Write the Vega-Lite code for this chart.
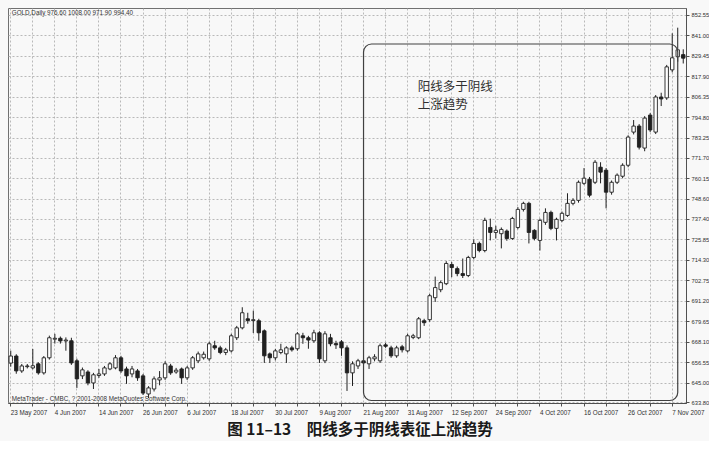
{
  "$schema": "https://vega.github.io/schema/vega-lite/v6.json",
  "width": 678,
  "height": 395,
  "padding": {"left": 8, "top": 8, "right": 0, "bottom": 2},
  "background": "#f8f8f8",
  "config": {
    "view": {"stroke": "#707070", "strokeWidth": 1},
    "font": "Liberation Sans",
    "axis": {"labelFont": "Liberation Sans", "labelColor": "#303030", "tickColor": "#505050", "domainColor": "#505050", "gridColor": "#a8a8a8", "gridDash": [2, 2], "gridWidth": 0.8}
  },
  "title": {"text": "图 11–13　阳线多于阴线表征上涨趋势", "orient": "bottom", "anchor": "middle", "font": "Noto Sans CJK SC", "fontSize": 15.5, "fontWeight": "bold", "color": "#1a1a1a", "offset": 8, "dx": 13},
  "datasets": {
    "gold": [
      {"date": "23 May 2007", "o": 656, "h": 663, "l": 654, "c": 660},
      {"date": "24 May 2007", "o": 660, "h": 661, "l": 650, "c": 651.6},
      {"date": "25 May 2007", "o": 651.6, "h": 655.5, "l": 650.5, "c": 654.4},
      {"date": "28 May 2007", "o": 654, "h": 655.5, "l": 653, "c": 654.4},
      {"date": "29 May 2007", "o": 653.3, "h": 664, "l": 652.5, "c": 654.5},
      {"date": "30 May 2007", "o": 655.6, "h": 656.5, "l": 649.5, "c": 650.5},
      {"date": "31 May 2007", "o": 650.5, "h": 660, "l": 649.5, "c": 659},
      {"date": "1 Jun 2007", "o": 659, "h": 671.5, "l": 658, "c": 670.3},
      {"date": "4 Jun 2007", "o": 669.5, "h": 672.5, "l": 667, "c": 670},
      {"date": "5 Jun 2007", "o": 670, "h": 671, "l": 667, "c": 668.5},
      {"date": "6 Jun 2007", "o": 668.5, "h": 670.5, "l": 663, "c": 669},
      {"date": "7 Jun 2007", "o": 668.6, "h": 670.3, "l": 655, "c": 656.1},
      {"date": "8 Jun 2007", "o": 657.3, "h": 658.5, "l": 642, "c": 647.1},
      {"date": "11 Jun 2007", "o": 648.8, "h": 653.5, "l": 647, "c": 652.2},
      {"date": "12 Jun 2007", "o": 651, "h": 652, "l": 643.5, "c": 644.8},
      {"date": "13 Jun 2007", "o": 644.8, "h": 650.5, "l": 641.4, "c": 649.4},
      {"date": "14 Jun 2007", "o": 649, "h": 652.7, "l": 647.7, "c": 649.9},
      {"date": "15 Jun 2007", "o": 649.9, "h": 654.4, "l": 648.8, "c": 653.3},
      {"date": "18 Jun 2007", "o": 652.7, "h": 656.5, "l": 652, "c": 655.6},
      {"date": "19 Jun 2007", "o": 653.3, "h": 660.5, "l": 652.5, "c": 659},
      {"date": "20 Jun 2007", "o": 659, "h": 660.1, "l": 650.5, "c": 651.6},
      {"date": "21 Jun 2007", "o": 652.7, "h": 654, "l": 644.3, "c": 648.8},
      {"date": "22 Jun 2007", "o": 649.9, "h": 654.4, "l": 648, "c": 652.7},
      {"date": "25 Jun 2007", "o": 651.6, "h": 652.7, "l": 646, "c": 647.7},
      {"date": "26 Jun 2007", "o": 648.8, "h": 649.9, "l": 638, "c": 639.1},
      {"date": "27 Jun 2007", "o": 638.6, "h": 643, "l": 636.3, "c": 642},
      {"date": "28 Jun 2007", "o": 641.4, "h": 648.5, "l": 640, "c": 647.1},
      {"date": "29 Jun 2007", "o": 646.5, "h": 651.5, "l": 643.5, "c": 647.7},
      {"date": "2 Jul 2007", "o": 647.7, "h": 657, "l": 646.5, "c": 655.6},
      {"date": "3 Jul 2007", "o": 654.4, "h": 655.6, "l": 649.4, "c": 650.5},
      {"date": "4 Jul 2007", "o": 651, "h": 653.3, "l": 650, "c": 652},
      {"date": "5 Jul 2007", "o": 652.7, "h": 653.5, "l": 644.3, "c": 647.7},
      {"date": "6 Jul 2007", "o": 647.7, "h": 654.4, "l": 646.5, "c": 653.3},
      {"date": "9 Jul 2007", "o": 653.3, "h": 660, "l": 652.2, "c": 659},
      {"date": "10 Jul 2007", "o": 657.3, "h": 662.5, "l": 656, "c": 661.2},
      {"date": "11 Jul 2007", "o": 659, "h": 662.5, "l": 658, "c": 661},
      {"date": "12 Jul 2007", "o": 658.4, "h": 668, "l": 657.3, "c": 666.9},
      {"date": "13 Jul 2007", "o": 665.8, "h": 668.6, "l": 663.5, "c": 664.6},
      {"date": "16 Jul 2007", "o": 664.6, "h": 665.8, "l": 661, "c": 662},
      {"date": "17 Jul 2007", "o": 662, "h": 664.6, "l": 660.5, "c": 663.5},
      {"date": "18 Jul 2007", "o": 662.9, "h": 672.5, "l": 662, "c": 671.4},
      {"date": "19 Jul 2007", "o": 670.3, "h": 677, "l": 669, "c": 675.9},
      {"date": "20 Jul 2007", "o": 675.9, "h": 687.5, "l": 675, "c": 684.4},
      {"date": "23 Jul 2007", "o": 681, "h": 684.4, "l": 678.2, "c": 680},
      {"date": "24 Jul 2007", "o": 680, "h": 685.6, "l": 673, "c": 680.5},
      {"date": "25 Jul 2007", "o": 679.9, "h": 681, "l": 668.6, "c": 673.1},
      {"date": "26 Jul 2007", "o": 674.2, "h": 675, "l": 656.1, "c": 660.1},
      {"date": "27 Jul 2007", "o": 661.2, "h": 662, "l": 656.1, "c": 659},
      {"date": "30 Jul 2007", "o": 659, "h": 664, "l": 657.5, "c": 662.9},
      {"date": "31 Jul 2007", "o": 662, "h": 666.9, "l": 661, "c": 663.5},
      {"date": "1 Aug 2007", "o": 661.2, "h": 665.5, "l": 656.1, "c": 664.6},
      {"date": "2 Aug 2007", "o": 664.6, "h": 665.8, "l": 662.5, "c": 663.5},
      {"date": "3 Aug 2007", "o": 664.1, "h": 673.5, "l": 663, "c": 672.5},
      {"date": "6 Aug 2007", "o": 671.4, "h": 673.1, "l": 666.9, "c": 670.3},
      {"date": "7 Aug 2007", "o": 670.3, "h": 671.4, "l": 664.1, "c": 669},
      {"date": "8 Aug 2007", "o": 668.6, "h": 674.8, "l": 667.5, "c": 673.1},
      {"date": "9 Aug 2007", "o": 673.1, "h": 674, "l": 656.1, "c": 658.4},
      {"date": "10 Aug 2007", "o": 657.3, "h": 674, "l": 656, "c": 672.5},
      {"date": "13 Aug 2007", "o": 670.3, "h": 672.5, "l": 665.5, "c": 666.9},
      {"date": "14 Aug 2007", "o": 667, "h": 668.6, "l": 664, "c": 666.3},
      {"date": "15 Aug 2007", "o": 668, "h": 669, "l": 660.1, "c": 664.6},
      {"date": "16 Aug 2007", "o": 664.6, "h": 666, "l": 640.3, "c": 650.5},
      {"date": "17 Aug 2007", "o": 650.5, "h": 657, "l": 643.1, "c": 655.6},
      {"date": "20 Aug 2007", "o": 654.4, "h": 658.4, "l": 652.7, "c": 657.3},
      {"date": "21 Aug 2007", "o": 657.3, "h": 659, "l": 655, "c": 656.1},
      {"date": "22 Aug 2007", "o": 655.6, "h": 660.1, "l": 652.7, "c": 659},
      {"date": "23 Aug 2007", "o": 658.4, "h": 661, "l": 657, "c": 659.5},
      {"date": "24 Aug 2007", "o": 657.3, "h": 667, "l": 656.1, "c": 665.8},
      {"date": "27 Aug 2007", "o": 666.3, "h": 667.4, "l": 664.6, "c": 665.5},
      {"date": "28 Aug 2007", "o": 664.6, "h": 665.8, "l": 659, "c": 660.1},
      {"date": "29 Aug 2007", "o": 660.1, "h": 665.8, "l": 659, "c": 664.6},
      {"date": "30 Aug 2007", "o": 665.2, "h": 666.3, "l": 662, "c": 663.5},
      {"date": "31 Aug 2007", "o": 662.9, "h": 672.5, "l": 662, "c": 671.4},
      {"date": "3 Sep 2007", "o": 670.5, "h": 672.5, "l": 669.5, "c": 671.4},
      {"date": "4 Sep 2007", "o": 670.3, "h": 682, "l": 669.5, "c": 681},
      {"date": "5 Sep 2007", "o": 679.9, "h": 681, "l": 677, "c": 678.8},
      {"date": "6 Sep 2007", "o": 680.5, "h": 695, "l": 679.3, "c": 694},
      {"date": "7 Sep 2007", "o": 692.9, "h": 704.8, "l": 690.5, "c": 698.6},
      {"date": "10 Sep 2007", "o": 697.4, "h": 702.5, "l": 696, "c": 701.4},
      {"date": "11 Sep 2007", "o": 700.8, "h": 713.5, "l": 700, "c": 712.2},
      {"date": "12 Sep 2007", "o": 711.6, "h": 713, "l": 704.5, "c": 709.9},
      {"date": "13 Sep 2007", "o": 709.3, "h": 710.5, "l": 705, "c": 706.5},
      {"date": "14 Sep 2007", "o": 706.5, "h": 715, "l": 704, "c": 705.4},
      {"date": "17 Sep 2007", "o": 705.4, "h": 716.5, "l": 704.5, "c": 715.6},
      {"date": "18 Sep 2007", "o": 715.6, "h": 725.8, "l": 714.5, "c": 723.5},
      {"date": "19 Sep 2007", "o": 723.5, "h": 724.5, "l": 718.5, "c": 719.5},
      {"date": "20 Sep 2007", "o": 719.5, "h": 738, "l": 718.5, "c": 736.5},
      {"date": "21 Sep 2007", "o": 732.5, "h": 737.5, "l": 725.2, "c": 729.7},
      {"date": "24 Sep 2007", "o": 729.7, "h": 733.5, "l": 726.3, "c": 730.9},
      {"date": "25 Sep 2007", "o": 729, "h": 732.5, "l": 720.7, "c": 731.4},
      {"date": "26 Sep 2007", "o": 730.5, "h": 731.4, "l": 725, "c": 726.3},
      {"date": "27 Sep 2007", "o": 726.3, "h": 738.5, "l": 725.5, "c": 737.6},
      {"date": "28 Sep 2007", "o": 732.5, "h": 744, "l": 731.5, "c": 742.7},
      {"date": "1 Oct 2007", "o": 742.7, "h": 747, "l": 741.5, "c": 746.1},
      {"date": "2 Oct 2007", "o": 746.1, "h": 747, "l": 723.5, "c": 729.7},
      {"date": "3 Oct 2007", "o": 730.9, "h": 731.5, "l": 725.2, "c": 726.3},
      {"date": "4 Oct 2007", "o": 725.2, "h": 737.5, "l": 719.5, "c": 736.5},
      {"date": "5 Oct 2007", "o": 735.4, "h": 743.3, "l": 734, "c": 741},
      {"date": "8 Oct 2007", "o": 741, "h": 742, "l": 731, "c": 732},
      {"date": "9 Oct 2007", "o": 732, "h": 738, "l": 725.2, "c": 737.1},
      {"date": "10 Oct 2007", "o": 736.5, "h": 741.5, "l": 735.5, "c": 740.5},
      {"date": "11 Oct 2007", "o": 739.3, "h": 751.8, "l": 738.5, "c": 746.1},
      {"date": "12 Oct 2007", "o": 746.1, "h": 749, "l": 745, "c": 747.8},
      {"date": "15 Oct 2007", "o": 747.8, "h": 759, "l": 746.5, "c": 758},
      {"date": "16 Oct 2007", "o": 757.4, "h": 766, "l": 756.5, "c": 760.3},
      {"date": "17 Oct 2007", "o": 759.7, "h": 761, "l": 749.5, "c": 750.7},
      {"date": "18 Oct 2007", "o": 758, "h": 770.5, "l": 757, "c": 769.3},
      {"date": "19 Oct 2007", "o": 766.5, "h": 769.3, "l": 757.4, "c": 763.7},
      {"date": "22 Oct 2007", "o": 764.8, "h": 766, "l": 743.3, "c": 752.4},
      {"date": "23 Oct 2007", "o": 752.4, "h": 759, "l": 751, "c": 758},
      {"date": "24 Oct 2007", "o": 758, "h": 763, "l": 757, "c": 762},
      {"date": "25 Oct 2007", "o": 761.4, "h": 768.7, "l": 760.3, "c": 767.6},
      {"date": "26 Oct 2007", "o": 767.6, "h": 784.5, "l": 766.5, "c": 783.5},
      {"date": "29 Oct 2007", "o": 786.3, "h": 793.1, "l": 785, "c": 789.7},
      {"date": "30 Oct 2007", "o": 789.7, "h": 790.8, "l": 776.5, "c": 777.8},
      {"date": "31 Oct 2007", "o": 777.3, "h": 795.3, "l": 775.5, "c": 794.2},
      {"date": "1 Nov 2007", "o": 795.9, "h": 797, "l": 786.3, "c": 787.5},
      {"date": "2 Nov 2007", "o": 786.3, "h": 807.2, "l": 785.2, "c": 806.1},
      {"date": "5 Nov 2007", "o": 806.1, "h": 808.5, "l": 801, "c": 805},
      {"date": "6 Nov 2007", "o": 805.6, "h": 824.2, "l": 804.5, "c": 823.1},
      {"date": "7 Nov 2007", "o": 821.4, "h": 842, "l": 820, "c": 828.2},
      {"date": "8 Nov 2007", "o": 828.8, "h": 845.2, "l": 826, "c": 832.7},
      {"date": "9 Nov 2007", "o": 830, "h": 833, "l": 825, "c": 828}
    ]
  },
  "data": {"name": "gold"},
  "resolve": {"axis": {"x": "independent", "y": "independent"}},
  "layer": [
    {
      "mark": {"type": "rule", "stroke": "#202020", "strokeWidth": 1},
      "encoding": {
        "x": {
          "field": "date",
          "type": "ordinal",
          "sort": null,
          "title": null,
          "scale": {
            "paddingInner": 0,
            "paddingOuter": 0,
            "domain": ["23 May 2007","24 May 2007","25 May 2007","28 May 2007","29 May 2007","30 May 2007","31 May 2007","1 Jun 2007","4 Jun 2007","5 Jun 2007","6 Jun 2007","7 Jun 2007","8 Jun 2007","11 Jun 2007","12 Jun 2007","13 Jun 2007","14 Jun 2007","15 Jun 2007","18 Jun 2007","19 Jun 2007","20 Jun 2007","21 Jun 2007","22 Jun 2007","25 Jun 2007","26 Jun 2007","27 Jun 2007","28 Jun 2007","29 Jun 2007","2 Jul 2007","3 Jul 2007","4 Jul 2007","5 Jul 2007","6 Jul 2007","9 Jul 2007","10 Jul 2007","11 Jul 2007","12 Jul 2007","13 Jul 2007","16 Jul 2007","17 Jul 2007","18 Jul 2007","19 Jul 2007","20 Jul 2007","23 Jul 2007","24 Jul 2007","25 Jul 2007","26 Jul 2007","27 Jul 2007","30 Jul 2007","31 Jul 2007","1 Aug 2007","2 Aug 2007","3 Aug 2007","6 Aug 2007","7 Aug 2007","8 Aug 2007","9 Aug 2007","10 Aug 2007","13 Aug 2007","14 Aug 2007","15 Aug 2007","16 Aug 2007","17 Aug 2007","20 Aug 2007","21 Aug 2007","22 Aug 2007","23 Aug 2007","24 Aug 2007","27 Aug 2007","28 Aug 2007","29 Aug 2007","30 Aug 2007","31 Aug 2007","3 Sep 2007","4 Sep 2007","5 Sep 2007","6 Sep 2007","7 Sep 2007","10 Sep 2007","11 Sep 2007","12 Sep 2007","13 Sep 2007","14 Sep 2007","17 Sep 2007","18 Sep 2007","19 Sep 2007","20 Sep 2007","21 Sep 2007","24 Sep 2007","25 Sep 2007","26 Sep 2007","27 Sep 2007","28 Sep 2007","1 Oct 2007","2 Oct 2007","3 Oct 2007","4 Oct 2007","5 Oct 2007","8 Oct 2007","9 Oct 2007","10 Oct 2007","11 Oct 2007","12 Oct 2007","15 Oct 2007","16 Oct 2007","17 Oct 2007","18 Oct 2007","19 Oct 2007","22 Oct 2007","23 Oct 2007","24 Oct 2007","25 Oct 2007","26 Oct 2007","29 Oct 2007","30 Oct 2007","31 Oct 2007","1 Nov 2007","2 Nov 2007","5 Nov 2007","6 Nov 2007","7 Nov 2007","8 Nov 2007","9 Nov 2007"]
          },
          "axis": {
            "values": ["23 May 2007","29 May 2007","4 Jun 2007","8 Jun 2007","14 Jun 2007","20 Jun 2007","26 Jun 2007","2 Jul 2007","6 Jul 2007","12 Jul 2007","18 Jul 2007","24 Jul 2007","30 Jul 2007","3 Aug 2007","9 Aug 2007","15 Aug 2007","21 Aug 2007","27 Aug 2007","31 Aug 2007","6 Sep 2007","12 Sep 2007","18 Sep 2007","24 Sep 2007","28 Sep 2007","4 Oct 2007","10 Oct 2007","16 Oct 2007","22 Oct 2007","26 Oct 2007","1 Nov 2007","7 Nov 2007"],
            "labelExpr": "indexof(['23 May 2007','4 Jun 2007','14 Jun 2007','26 Jun 2007','6 Jul 2007','18 Jul 2007','30 Jul 2007','9 Aug 2007','21 Aug 2007','31 Aug 2007','12 Sep 2007','24 Sep 2007','4 Oct 2007','16 Oct 2007','26 Oct 2007','7 Nov 2007'], datum.value) >= 0 ? datum.label : ''",
            "orient": "bottom",
            "labelAngle": 0,
            "labelAlign": "left",
            "labelBaseline": "top",
            "labelFontSize": 6.3,
            "labelPadding": 3,
            "labelOverlap": false,
            "labelFlush": false,
            "labelBound": false,
            "tickSize": 3,
            "grid": true,
            "domain": true
          }
        },
        "y": {
          "field": "l",
          "type": "quantitative",
          "title": null,
          "scale": {"domain": [633.5, 856.3], "nice": false, "zero": false},
          "axis": {
            "orient": "right",
            "values": [633.8, 645, 656.55, 668.1, 679.65, 691.2, 702.75, 714.3, 725.85, 737.4, 748.6, 760.15, 771.7, 783.25, 794.8, 806.35, 817.9, 829.45, 841, 852.55],
            "format": ".2f",
            "labelFontSize": 5.8,
            "labelPadding": 2,
            "labelOverlap": false,
            "labelFlush": false,
            "tickSize": 3,
            "grid": true,
            "domain": true
          }
        },
        "y2": {"field": "h"}
      }
    },
    {
      "mark": {"type": "bar", "size": 3.4, "stroke": "#202020", "strokeWidth": 0.9},
      "encoding": {
        "x": {"field": "date", "type": "ordinal", "sort": null, "axis": null},
        "y": {"field": "o", "type": "quantitative", "axis": null},
        "y2": {"field": "c"},
        "fill": {"condition": {"test": "datum.c >= datum.o", "value": "#ffffff"}, "value": "#202020"}
      }
    },
    {
      "data": {"values": [{}]},
      "mark": {"type": "rect", "fill": null, "filled": false, "stroke": "#404040", "strokeWidth": 1.2, "cornerRadius": 8},
      "encoding": {
        "x": {"datum": "21 Aug 2007", "type": "ordinal", "axis": null},
        "x2": {"datum": "8 Nov 2007"},
        "y": {"datum": 634.9, "type": "quantitative", "axis": null},
        "y2": {"datum": 836}
      }
    },
    {
      "data": {"values": [{}]},
      "mark": {"type": "text", "text": "阳线多于阴线", "align": "left", "baseline": "top", "font": "Noto Sans CJK SC", "fontSize": 12.5, "color": "#303030", "dx": -1},
      "encoding": {
        "x": {"datum": "4 Sep 2007", "type": "ordinal", "axis": null},
        "y": {"datum": 815.4, "type": "quantitative", "axis": null}
      }
    },
    {
      "data": {"values": [{}]},
      "mark": {"type": "text", "text": "上涨趋势", "align": "left", "baseline": "top", "font": "Noto Sans CJK SC", "fontSize": 12.5, "color": "#303030", "dx": -1},
      "encoding": {
        "x": {"datum": "4 Sep 2007", "type": "ordinal", "axis": null},
        "y": {"datum": 804.9, "type": "quantitative", "axis": null}
      }
    },
    {
      "data": {"values": [{}]},
      "mark": {"type": "text", "text": "GOLD,Daily  976.60 1008.00 971.90 994.40", "align": "left", "baseline": "middle", "fontSize": 6.3, "color": "#333333", "dx": 1},
      "encoding": {
        "x": {"datum": "23 May 2007", "type": "ordinal", "axis": null},
        "y": {"datum": 853.2, "type": "quantitative", "axis": null}
      }
    },
    {
      "data": {"values": [{}]},
      "mark": {"type": "text", "text": "MetaTrader - CMBC, ? 2001-2008 MetaQuotes Software Corp.", "align": "left", "baseline": "middle", "fontSize": 6.3, "color": "#333333", "dx": 1},
      "encoding": {
        "x": {"datum": "23 May 2007", "type": "ordinal", "axis": null},
        "y": {"datum": 635.6, "type": "quantitative", "axis": null}
      }
    }
  ]
}
